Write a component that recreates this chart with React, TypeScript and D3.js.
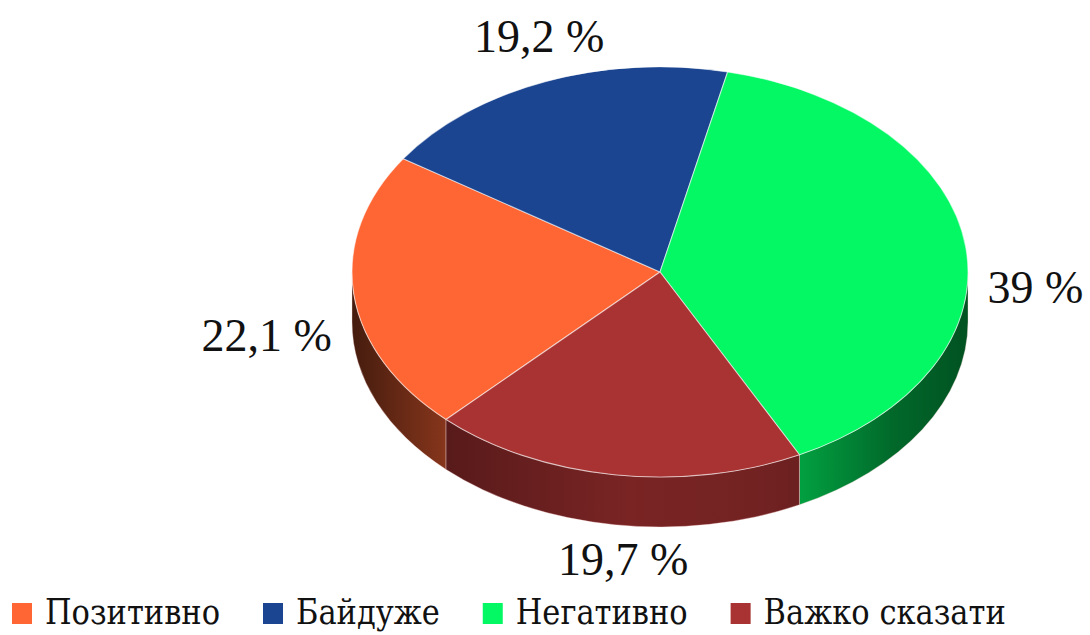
import * as d3 from "d3";
import React, { useEffect, useRef } from "react";

// chart values
const categories: string[] = ["Позитивно", "Байдуже", "Негативно", "Важко сказати"];
const shares: number[] = [22.1, 19.2, 39, 19.7];
const shareLabels: string[] = ["22,1 %", "19,2 %", "39 %", "19,7 %"];
const colors: string[] = ["#FF6633", "#1B4591", "#03F864", "#A93232"];

const W = 1090;
const H = 635;
const FONT = "Liberation Serif";
const LEGEND_FONT = "'DejaVu Serif Condensed', 'DejaVu Serif', serif";

const App = () => {
	const ref = useRef<SVGSVGElement>(null);

	useEffect(() => {
		const svg = d3.select(ref.current);
		svg.selectAll("*").remove();

		const cx = 660;
		const cy = 272;
		const rx = 308;
		const ry = 205;
		const depth = 50;

		const pt = (a: number, dy = 0): [number, number] => [
			cx + rx * Math.sin(a),
			cy - ry * Math.cos(a) + dy,
		];

		const first = (224 * Math.PI) / 180;
		const pie = d3
			.pie<number>()
			.sort(null)
			.value((d) => d)
			.startAngle(first)
			.endAngle(first + 2 * Math.PI);
		const arcs = pie(shares);

		const defs = svg.append("defs");
		// horizontal lighting for the side walls
		const shade: [number, number][] = [
			[0, 0.27],
			[0.15, 0.52],
			[0.45, 0.72],
			[0.65, 0.68],
			[0.73, 0.64],
			[0.88, 0.42],
			[1, 0.33],
		];
		colors.forEach((c, i) => {
			const g = defs
				.append("linearGradient")
				.attr("id", `side${i}`)
				.attr("gradientUnits", "userSpaceOnUse")
				.attr("x1", cx - rx)
				.attr("x2", cx + rx)
				.attr("y1", 0)
				.attr("y2", 0);
			const base = d3.rgb(c);
			shade.forEach(([o, f]) => {
				g.append("stop")
					.attr("offset", o)
					.attr(
						"stop-color",
						d3.rgb(base.r * f, base.g * f, base.b * f).formatHex()
					);
			});
		});

		const sideG = svg.append("g");
		const topG = svg.append("g");
		const TWO = 2 * Math.PI;

		arcs.forEach((a, i) => {
			const s = a.startAngle % TWO;
			const e0 = s + (a.endAngle - a.startAngle);
			// visible front half: PI/2 .. 3PI/2 (and shifted by 2PI)
			[0, TWO].forEach((shift) => {
				const lo = Math.max(s, Math.PI / 2 + shift);
				const hi = Math.min(e0, (3 * Math.PI) / 2 + shift);
				if (hi > lo) {
					const p0 = pt(lo);
					const p1 = pt(hi);
					const path =
						`M${p0[0]},${p0[1]}` +
						`A${rx},${ry} 0 0 1 ${p1[0]},${p1[1]}` +
						`L${p1[0]},${p1[1] + depth}` +
						`A${rx},${ry} 0 0 0 ${p0[0]},${p0[1] + depth}Z`;
					sideG
						.append("path")
						.attr("d", path)
						.attr("fill", `url(#side${i})`)
						.attr("stroke", "rgba(255,220,220,0.45)")
						.attr("stroke-width", 0.8);
				}
			});

			const p0 = pt(a.startAngle);
			const p1 = pt(a.endAngle);
			const large = a.endAngle - a.startAngle > Math.PI ? 1 : 0;
			topG.append("path")
				.attr(
					"d",
					`M${cx},${cy}L${p0[0]},${p0[1]}` +
						`A${rx},${ry} 0 ${large} 1 ${p1[0]},${p1[1]}Z`
				)
				.attr("fill", colors[i])
				.attr("stroke", "rgba(255,255,255,0.55)")
				.attr("stroke-width", 1.1)
				.attr("stroke-linejoin", "round");
		});

		// data labels
		const labG = svg.append("g").attr("font-family", FONT).attr("font-size", 46).attr("fill", "#111");
		arcs.forEach((a, i) => {
			const m = (a.startAngle + a.endAngle) / 2;
			const sn = Math.sin(m);
			const cs = Math.cos(m);
			const [ex, ey] = pt(m);
			const t = labG.append("text").text(shareLabels[i]);
			if (Math.abs(sn) > 0.7) {
				t.attr("x", ex + (sn > 0 ? 22 : -22))
					.attr("y", ey + depth / 2 + 16)
					.attr("text-anchor", sn > 0 ? "start" : "end")
					.attr("dominant-baseline", "central");
			} else if (cs > 0) {
				t.attr("x", ex - 6)
					.attr("y", ey - 30)
					.attr("text-anchor", "middle");
			} else {
				t.attr("x", ex + 9)
					.attr("y", ey + depth + 50)
					.attr("text-anchor", "middle");
			}
		});

		// legend (narrow serif, squeezed to the original's width)
		const legG = svg.append("g").attr("font-family", LEGEND_FONT).attr("font-size", 36).attr("fill", "#111");
		let x = 12;
		const baseY = 624;
		let squeeze = 1;
		categories.forEach((name, i) => {
			legG.append("rect")
				.attr("x", x)
				.attr("y", baseY - 21)
				.attr("width", 20)
				.attr("height", 21)
				.attr("fill", colors[i]);
			const txt = legG
				.append("text")
				.attr("x", x + 33)
				.attr("y", baseY)
				.text(name);
			const w0 = (txt.node() as SVGTextElement).getComputedTextLength();
			if (i === 0) squeeze = 175 / w0;
			const w = w0 * squeeze;
			txt.attr("textLength", w).attr("lengthAdjust", "spacingAndGlyphs");
			x += 33 + w + 43;
		});
	}, []);

	return (
		<svg
			ref={ref}
			width={W}
			height={H}
			style={{ position: "absolute", left: 0, top: 0, background: "#fff" }}
		/>
	);
};

export default App;
